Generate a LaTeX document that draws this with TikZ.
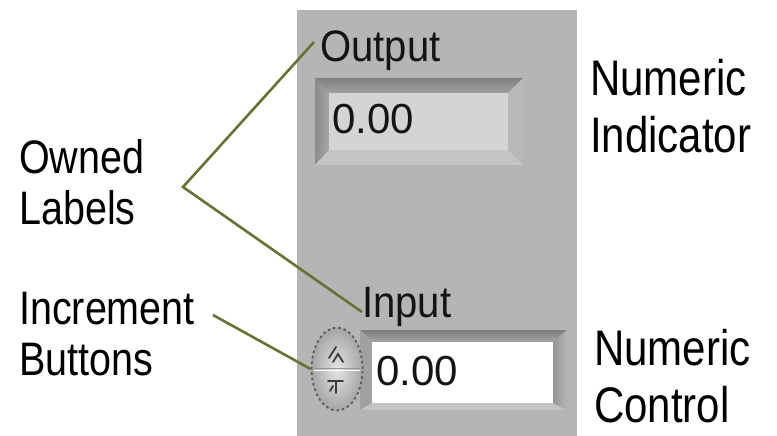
\documentclass[tikz,border=0pt]{standalone}
\usepackage{fontspec}
\setmainfont{Liberation Sans}
\newfontfamily\narrowfont[FakeStretch=0.84]{Liberation Sans}
\newfontfamily\lvfont[FakeStretch=0.91]{Liberation Sans}
\newfontfamily\lvnumfont{Liberation Sans}
\usetikzlibrary{shapes.geometric}
\definecolor{panelgray}{HTML}{B5B5B5}
\definecolor{olive}{HTML}{6B7134}
\definecolor{lvtext}{HTML}{141414}
\definecolor{g060}{HTML}{3C3C3C}
\definecolor{g090}{HTML}{5A5A5A}
\definecolor{g125}{HTML}{7D7D7D}
\definecolor{g128}{HTML}{808080}
\definecolor{g140}{HTML}{8C8C8C}
\definecolor{g150}{HTML}{969696}
\definecolor{g160}{HTML}{A0A0A0}
\definecolor{g165}{HTML}{A5A5A5}
\definecolor{g175}{HTML}{AFAFAF}
\definecolor{g180}{HTML}{B4B4B4}
\definecolor{g184}{HTML}{B8B8B8}
\definecolor{g195}{HTML}{C3C3C3}
\definecolor{g196}{HTML}{C4C4C4}
\definecolor{g212}{HTML}{D4D4D4}
\definecolor{g230}{HTML}{E6E6E6}
\tikzset{
  callout/.style={font=\narrowfont\fontsize{47}{51}\selectfont, align=left, inner sep=0pt, anchor=north west},
  sidelabel/.style={font=\narrowfont\fontsize{50}{57}\selectfont, align=left, inner sep=0pt, anchor=north west},
  lvlabel/.style={font=\lvfont\fontsize{44}{48}\selectfont, text=lvtext, inner sep=0pt, anchor=base west},
  lvnum/.style={font=\lvnumfont\fontsize{42}{46}\selectfont, text=lvtext, inner sep=0pt, anchor=base west},
  leader/.style={draw=olive, line width=2.6pt},
}
\begin{document}
\begin{tikzpicture}[x=1pt,y=-1pt]
\useasboundingbox (0,0) rectangle (777,436);
\fill[white] (0,0) rectangle (777,436);
% panel
\fill[panelgray] (297,10) rectangle (577,436);

% indicator frame
\shade[top color=g128, bottom color=g160]
  (315,78) -- (523,78) -- (508,93) -- (329,93) -- cycle;
\shade[left color=g140, right color=g165]
  (315,78) -- (329,93) -- (329,150) -- (315,165) -- cycle;
\fill[g196] (315,165) -- (329,150) -- (508,150) -- (523,165) -- cycle;
\fill[g184] (523,78) -- (523,165) -- (508,150) -- (508,93) -- cycle;
\fill[g212] (329,93) rectangle (508,150);

% control frame
\shade[top color=g125, bottom color=g165]
  (360,330) -- (567,330) -- (553,342) -- (372,342) -- cycle;
\fill[g160] (360,330) -- (372,342) -- (372,403) -- (360,410) -- cycle;
\fill[g195] (360,410) -- (372,403) -- (553,403) -- (567,410) -- cycle;
\shade[left color=g150, right color=g180]
  (567,330) -- (567,410) -- (553,403) -- (553,342) -- cycle;
\fill[white] (372,342) rectangle (553,403);

% increment buttons
\node (incbtn) [ellipse, minimum width=51pt, minimum height=83pt, inner sep=0pt,
  inner color=g230, outer color=g165,
  draw=g090, line width=1.8pt, dash pattern=on 2.5pt off 3pt] at (337,369) {};
\draw[g150, line width=1pt] (314,368.5) -- (360,368.5);
\draw[white, line width=1pt] (314,370.5) -- (360,370.5);
\draw[g060, line width=1.8pt, line cap=round]
  (329,358) -- (336,347) (333,362) -- (338,354) -- (343,362);
\draw[g060, line width=1.8pt, line cap=round]
  (328,381) -- (343,381) (336,381) -- (336,393) (330,391) -- (333,386);

% LabVIEW texts
\node (outlbl) [lvlabel] at (320,62) {Output};
\node (outval) [lvnum] at (332,133) {0.00};
\node (inlbl) [lvlabel] at (362,317) {Input};
\node (inval) [lvnum] at (376,385) {0.00};

% callouts
\node (owned) [callout] at (19,139) {Owned\\Labels};
\node (incr) [callout] at (19,292) {Increment\\Buttons};
\node (indic) [sidelabel] at (590,59) {Numeric\\Indicator};
\node (ctrl) [sidelabel] at (594,329) {Numeric\\Control};

% leaders
\coordinate (ownedtip) at (183,187);
\coordinate (outend) at (314,42);
\coordinate (inend) at (362,312);
\coordinate (incrtip) at (213,315);
\draw[leader] (outend) -- (ownedtip) -- (inend);
\draw[leader] (incrtip) -- (incbtn.west);
\end{tikzpicture}
\end{document}
